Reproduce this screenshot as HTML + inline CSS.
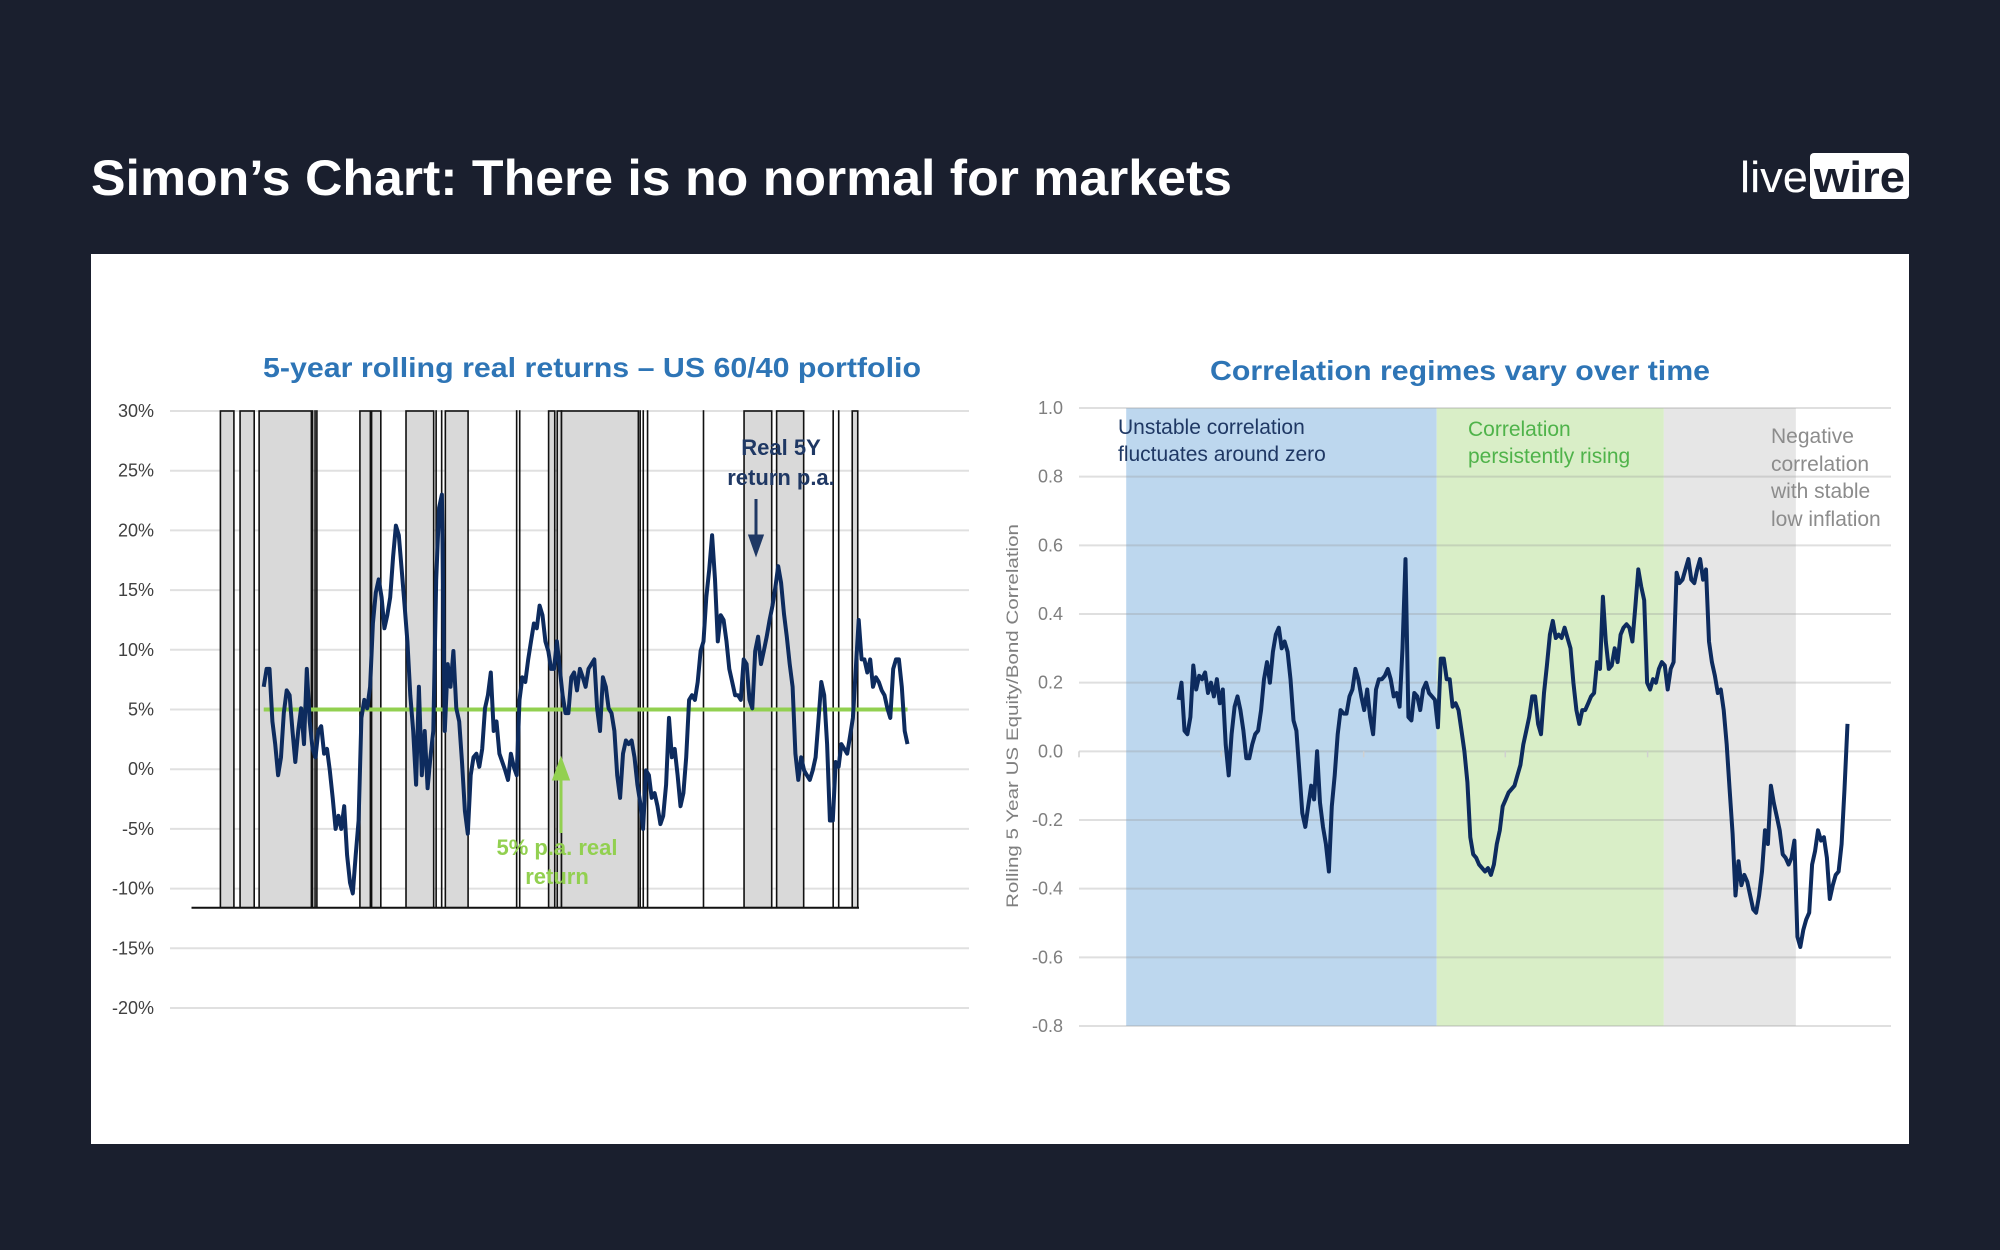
<!DOCTYPE html>
<html><head><meta charset="utf-8"><style>
html,body{margin:0;padding:0;background:#1a1f2e;}
svg{display:block;font-family:"Liberation Sans",Arial,sans-serif;}
</style></head><body>
<svg id="root" width="2000" height="1250" viewBox="0 0 2000 1250">
<rect x="0" y="0" width="2000" height="1250" fill="#1a1f2e"/>
<text x="91" y="195" fill="#ffffff" font-size="50" font-weight="bold" textLength="1141" lengthAdjust="spacingAndGlyphs">Simon’s Chart: There is no normal for markets</text>
<g>
<text x="1740" y="192" fill="#ffffff" font-size="44" textLength="68" lengthAdjust="spacingAndGlyphs">live</text>
<rect x="1810" y="153" width="99" height="46" rx="4" fill="#ffffff"/>
<text x="1814" y="192" fill="#1a1f2e" font-size="44" font-weight="bold" textLength="91" lengthAdjust="spacingAndGlyphs">wire</text>
</g>
<rect x="91" y="254" width="1818" height="890" fill="#ffffff"/>
<g id="left"></g>
<g id="right"></g>
</svg>
<script>
// ---------- LEFT CHART DATA ----------
const leftTicks = [30, 25, 20, 15, 10, 5, 0, -5, -10, -15, -20];
const leftTickLabels = ["30%","25%","20%","15%","10%","5%","0%","-5%","-10%","-15%","-20%"];
const leftStartYear = 1915.25;
const leftEndYear = 2020;
const leftReturns = [6.9,8.4,8.4,4.0,2.1,-0.5,1.0,4.7,6.6,6.2,3.2,0.6,3.2,5.1,2.1,8.4,4.0,1.7,1.0,3.2,3.6,1.3,1.7,-0.1,-2.4,-5.0,-3.9,-5.0,-3.1,-7.2,-9.5,-10.4,-7.2,-4.3,4.3,5.8,5.1,6.9,12.2,14.8,15.9,14.4,11.8,12.9,14.4,17.8,20.4,19.6,16.7,13.7,10.7,6.2,3.2,-1.3,6.9,-0.5,3.2,-1.6,1.0,3.2,15.9,21.9,23.0,3.2,8.8,6.9,9.9,5.1,4.0,0.6,-3.5,-5.4,-0.5,1.0,1.3,0.2,1.7,5.1,6.2,8.1,3.2,4.0,1.3,0.6,-0.1,-0.9,1.3,0.2,-0.5,5.8,7.7,7.3,9.2,10.7,12.2,11.8,13.7,12.9,10.7,9.9,8.4,8.4,10.7,8.4,6.2,4.7,4.7,7.7,8.1,6.6,8.4,7.7,6.9,8.4,8.8,9.2,5.1,3.2,7.7,6.9,5.1,4.7,3.2,-0.5,-2.4,1.3,2.4,2.1,2.4,1.0,-1.3,-2.8,-5.0,-0.1,-0.5,-2.4,-2.0,-3.1,-4.6,-3.9,-1.3,4.3,1.0,1.7,-0.5,-3.1,-2.0,1.0,5.8,6.2,5.8,7.3,9.9,10.7,14.4,16.7,19.6,15.9,10.7,12.9,12.5,10.7,8.4,7.3,6.2,6.2,5.8,9.2,8.8,5.8,5.1,9.9,11.1,8.8,9.9,11.1,12.5,13.7,15.2,17.0,15.6,13.0,11.1,8.8,6.9,1.3,-0.9,1.0,-0.1,-0.5,-0.9,-0.1,1.0,4.0,7.3,6.2,2.1,-4.3,-4.3,0.6,0.2,2.1,1.7,1.3,2.8,4.3,8.4,12.5,9.2,9.2,8.1,9.2,6.9,7.7,7.3,6.6,6.2,5.1,4.3,8.4,9.2,9.2,6.9,3.2,2.1];
const leftBarStarts = [1908.2,1911.4,1914.5,1923.2,1923.6,1923.9,1930.9,1932.8,1938.4,1943.3,1944.2,1944.8,1956.4,1956.9,1961.6,1963.0,1963.7,1976.5,1977.0,1977.7,1986.8,1993.4,1998.7,2007.9,2008.8,2011.0];
const leftBarEnds   = [1910.4,1913.7,1923.0,1923.2,1923.6,1923.9,1932.6,1934.3,1942.9,1943.3,1944.2,1948.5,1956.4,1956.9,1962.6,1963.7,1976.2,1976.5,1977.0,1977.7,1986.8,1997.9,2003.1,2007.9,2008.8,2011.9];
const leftBarTop = 30;
const leftBarBottom = -11.6;
const targetReturn = 5;

// ---------- RIGHT CHART DATA ----------
const rightTicks = [1.0,0.8,0.6,0.4,0.2,0.0,-0.2,-0.4,-0.6,-0.8];
const rightTickLabels = ["1.0","0.8","0.6","0.4","0.2","0.0","-0.2","-0.4","-0.6","-0.8"];
const rightStartYear = 1931.1;
const rightEndYear = 2021.8;
const correlation = [0.15,0.2,0.06,0.05,0.10,0.25,0.18,0.22,0.21,0.23,0.17,0.20,0.16,0.21,0.14,0.18,0.02,-0.07,0.05,0.13,0.16,0.12,0.06,-0.02,-0.02,0.02,0.05,0.06,0.12,0.21,0.26,0.20,0.29,0.34,0.36,0.30,0.32,0.29,0.21,0.09,0.06,-0.06,-0.18,-0.22,-0.16,-0.10,-0.14,0.0,-0.15,-0.22,-0.27,-0.35,-0.16,-0.07,0.05,0.12,0.11,0.11,0.16,0.18,0.24,0.21,0.16,0.12,0.18,0.10,0.05,0.18,0.21,0.21,0.22,0.24,0.21,0.16,0.17,0.13,0.30,0.56,0.10,0.09,0.17,0.16,0.12,0.18,0.20,0.17,0.16,0.15,0.07,0.27,0.27,0.21,0.21,0.13,0.14,0.12,0.06,0.0,-0.09,-0.25,-0.30,-0.31,-0.33,-0.34,-0.35,-0.34,-0.36,-0.33,-0.27,-0.23,-0.16,-0.14,-0.12,-0.11,-0.10,-0.07,-0.04,0.02,0.06,0.10,0.16,0.16,0.08,0.05,0.17,0.25,0.34,0.38,0.33,0.34,0.33,0.36,0.33,0.30,0.20,0.12,0.08,0.12,0.12,0.14,0.16,0.17,0.26,0.24,0.45,0.32,0.24,0.25,0.30,0.26,0.34,0.36,0.37,0.36,0.32,0.42,0.53,0.48,0.44,0.20,0.18,0.21,0.20,0.24,0.26,0.25,0.18,0.24,0.26,0.52,0.49,0.50,0.53,0.56,0.50,0.49,0.53,0.56,0.50,0.53,0.32,0.26,0.22,0.17,0.18,0.12,0.02,-0.11,-0.24,-0.42,-0.32,-0.39,-0.36,-0.38,-0.42,-0.46,-0.47,-0.42,-0.35,-0.23,-0.27,-0.10,-0.15,-0.19,-0.23,-0.30,-0.31,-0.33,-0.31,-0.26,-0.54,-0.57,-0.52,-0.49,-0.47,-0.33,-0.29,-0.23,-0.26,-0.25,-0.31,-0.43,-0.39,-0.36,-0.35,-0.27,-0.11,0.08];
const regimeStarts = [1924.0, 1966.1, 1996.9];
const regimeEnds   = [1966.1, 1996.9, 2014.8];
const regimeNames  = ["regime-unstable","regime-rising","regime-negative"];
const regimeColors = ["#bdd7ee","#d9eec7","#e6e6e6"];
const axisTickYears = [1917.6, 1936.9, 1956.2, 1975.4, 1994.7];

const NS = "http://www.w3.org/2000/svg";
function mk(tag, attrs, parent){ const e=document.createElementNS(NS,tag); for(const k in attrs) e.setAttribute(k,attrs[k]); parent.appendChild(e); return e; }

// ---------- LEFT ----------
const L = document.getElementById('left');
const lx = y => 170 + (y - 1900) / 130 * 799;
const ly = v => 411 + (30 - v) / 50 * 597;

let t = mk('text',{x:592,y:377,'text-anchor':'middle',fill:'#2e75b6','font-size':28,'font-weight':'bold',textLength:658,lengthAdjust:'spacingAndGlyphs'},L);
t.textContent = "5-year rolling real returns – US 60/40 portfolio";



leftTicks.forEach((v,i)=>{
  const g = mk('line',{x1:170,x2:969,y1:ly(v),y2:ly(v),stroke:'#e0e0e0','stroke-width':2},L);
  
  
  const lb = mk('text',{x:154,y:ly(v)+6,'text-anchor':'end',fill:'#404040','font-size':18},L);
  lb.textContent = leftTickLabels[i];
  
  
});

leftBarStarts.forEach((s,i)=>{
  const x0 = lx(s), x1 = lx(leftBarEnds[i]);
  const b = mk('rect',{x:x0,y:ly(leftBarTop),width:Math.max(0.01,x1-x0),height:ly(leftBarBottom)-ly(leftBarTop),fill:'#d9d9d9',stroke:'#111','stroke-width':1.6},L);
  
  
});
const base = mk('line',{x1:lx(1903.5),x2:lx(2012.1),y1:ly(leftBarBottom),y2:ly(leftBarBottom),stroke:'#111','stroke-width':2},L);



const tl = mk('line',{x1:lx(leftStartYear),x2:lx(leftEndYear),y1:ly(targetReturn),y2:ly(targetReturn),stroke:'#92d050','stroke-width':4},L);



const lstep = (leftEndYear-leftStartYear)/(leftReturns.length-1);
const lp = leftReturns.map((v,i)=>(i?'L':'M')+lx(leftStartYear+i*lstep).toFixed(1)+','+ly(v).toFixed(1)).join('');
const lpath = mk('path',{d:lp,fill:'none',stroke:'#0d2b5e','stroke-width':4,'stroke-linejoin':'round'},L);



let a1 = mk('text',{x:781,y:455,'text-anchor':'middle',fill:'#1f3864','font-size':22,'font-weight':'bold'},L);
a1.textContent='Real 5Y';


let a2 = mk('text',{x:781,y:485,'text-anchor':'middle',fill:'#1f3864','font-size':22,'font-weight':'bold'},L);
a2.textContent='return p.a.';


let ar1 = mk('path',{d:'M756,499 L756,540 M750,536 L756,553 L762,536 Z',stroke:'#1f3864','stroke-width':3,fill:'#1f3864'},L);



let g1 = mk('text',{x:557,y:855,'text-anchor':'middle',fill:'#92d050','font-size':22,'font-weight':'bold'},L);
g1.textContent='5% p.a. real';


let g2 = mk('text',{x:557,y:884,'text-anchor':'middle',fill:'#92d050','font-size':22,'font-weight':'bold'},L);
g2.textContent='return';


let ar2 = mk('path',{d:'M561,833 L561,775 M554,779 L561,760 L568,779 Z',stroke:'#92d050','stroke-width':3,fill:'#92d050'},L);



// ---------- RIGHT ----------
const R = document.getElementById('right');
const rx = y => 1079 + (y - 1917.6) / (2027.7 - 1917.6) * 812;
const ry = v => 408 + (1.0 - v) / 1.8 * 618;

let rt = mk('text',{x:1460,y:380,'text-anchor':'middle',fill:'#2e75b6','font-size':28,'font-weight':'bold',textLength:500,lengthAdjust:'spacingAndGlyphs'},R);
rt.textContent = "Correlation regimes vary over time";



regimeStarts.forEach((s,i)=>{
  const r = mk('rect',{x:rx(s),y:ry(1.0),width:rx(regimeEnds[i])-rx(s),height:ry(-0.8)-ry(1.0),fill:regimeColors[i]},R);
  
  
});

rightTicks.forEach((v,i)=>{
  const g = mk('line',{x1:1079,x2:1891,y1:ry(v),y2:ry(v),stroke:'rgba(150,150,150,0.3)','stroke-width':2},R);
  
  
  const lb = mk('text',{x:1063,y:ry(v)+6,'text-anchor':'end',fill:'#7f7f7f','font-size':18},R);
  lb.textContent = rightTickLabels[i];
  
  
});
axisTickYears.forEach(y=>{
  const tk = mk('line',{x1:rx(y),x2:rx(y),y1:ry(0),y2:ry(0)+6,stroke:'#d0d0d0','stroke-width':1.5},R);
  
  
});

let yt = mk('text',{x:0,y:0,'text-anchor':'middle',fill:'#7f7f7f','font-size':17,transform:'translate(1018,716) rotate(-90)',textLength:384,lengthAdjust:'spacingAndGlyphs'},R);
yt.textContent = "Rolling 5 Year US Equity/Bond  Correlation";



const rstep = (rightEndYear-rightStartYear)/(correlation.length-1);
const rp = correlation.map((v,i)=>(i?'L':'M')+rx(rightStartYear+i*rstep).toFixed(1)+','+ry(v).toFixed(1)).join('');
const rpath = mk('path',{d:rp,fill:'none',stroke:'#0d2b5e','stroke-width':4,'stroke-linejoin':'round'},R);



function lbl(txt,x,y,col,name){
  const e = mk('text',{x:x,y:y,fill:col,'font-size':21},R);
  e.textContent = txt;
  
  
}
lbl('Unstable correlation',1118,434,'#1f3864','regime-label-unstable-1');
lbl('fluctuates around zero',1118,461,'#1f3864','regime-label-unstable-2');
lbl('Correlation',1468,436,'#4fb34a','regime-label-rising-1');
lbl('persistently rising',1468,463,'#4fb34a','regime-label-rising-2');
lbl('Negative',1771,443,'#8c8c8c','regime-label-negative-1');
lbl('correlation',1771,471,'#8c8c8c','regime-label-negative-2');
lbl('with stable',1771,498,'#8c8c8c','regime-label-negative-3');
lbl('low inflation',1771,526,'#8c8c8c','regime-label-negative-4');
</script>
</body></html>
